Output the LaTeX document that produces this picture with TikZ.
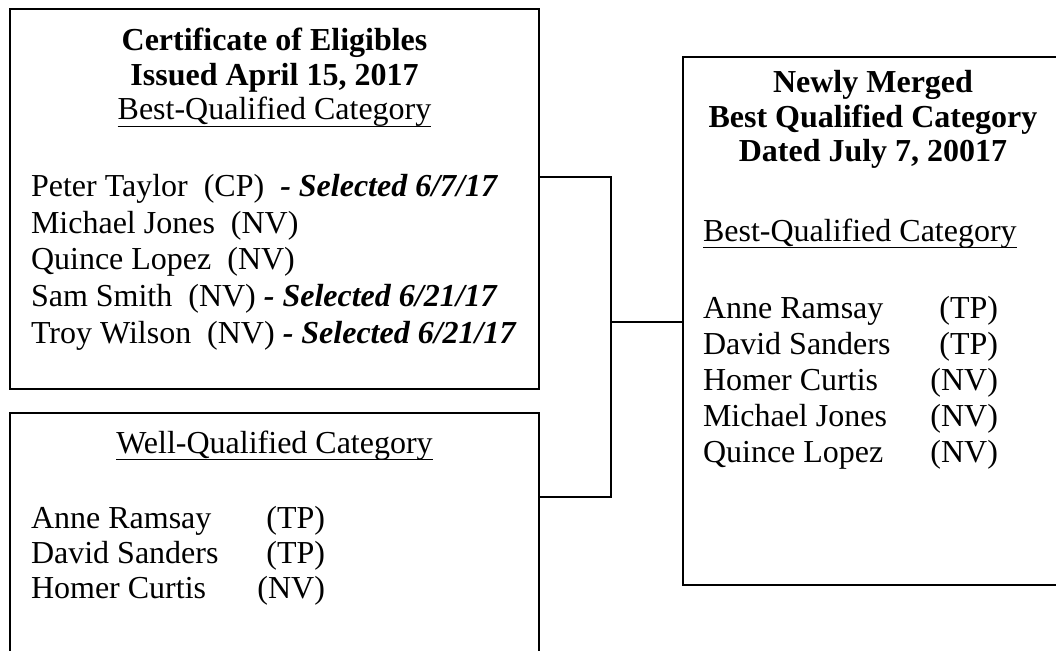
\documentclass[tikz,border=0pt]{standalone}
\usepackage{fontspec}
\setmainfont{Liberation Serif}
\newsavebox{\ulbox}
\newcommand{\myul}[1]{\sbox{\ulbox}{#1}\rlap{\rule[-7.4pt]{\wd\ulbox}{1.6pt}}\usebox{\ulbox}}
\begin{document}
\begin{tikzpicture}[x=1pt,y=-1pt,
  box/.style={draw, line width=2pt, anchor=north west, outer sep=0pt, inner sep=0pt},
  txt/.style={inner sep=0pt, outer sep=0pt, font=\fontsize{32}{36}\selectfont},
  ttl/.style={inner sep=0pt, outer sep=0pt, anchor=base, font=\fontsize{32}{36}\selectfont\bfseries},
  head/.style={txt, anchor=base},
  item/.style={txt, anchor=base west},
  tag/.style={txt, anchor=base east},
  wire/.style={draw, line width=2pt}]
\useasboundingbox (0,0) rectangle (1056,650);
\clip (0,0) rectangle (1056,650);
% boxes
\node[box, minimum width=529, minimum height=379] (b1) at (10,9.5) {};
\node[box, minimum width=529, minimum height=300] (b2) at (10,413) {};
\node[box, minimum width=380, minimum height=528] (b3) at (683,57) {};
% box 1
\node[ttl] (t1) at (274.5,51) {Certificate of Eligibles};
\node[ttl] (t2) at (274.5,86) {Issued April 15, 2017};
\node[head] (t3) at (274.5,120) {\myul{Best-Qualified Category}};
\node[item] (p1) at (31,196) {Peter Taylor~ (CP)~ \textbf{\textit{- Selected 6/7/17}}};
\node[item] (p2) at (31,233) {Michael Jones~ (NV)};
\node[item] (p3) at (31,269) {Quince Lopez~ (NV)};
\node[item] (p4) at (31,306) {Sam Smith~ (NV) \textbf{\textit{- Selected 6/21/17}}};
\node[item] (p5) at (31,343) {Troy Wilson~ (NV) \textbf{\textit{- Selected 6/21/17}}};
% box 2
\node[head] (w0) at (274.5,453) {\myul{Well-Qualified Category}};
\node[item] (w1) at (31,528) {Anne Ramsay};
\node[tag] (w1t) at (325,528) {(TP)};
\node[item] (w2) at (31,563) {David Sanders};
\node[tag] (w2t) at (325,563) {(TP)};
\node[item] (w3) at (31,598) {Homer Curtis};
\node[tag] (w3t) at (325,598) {(NV)};
% box 3
\node[ttl] (n1) at (873,93) {Newly Merged};
\node[ttl] (n2) at (873,128) {Best Qualified Category};
\node[ttl] (n3) at (873,161) {Dated July 7, 20017};
\node[item] (n4) at (703,241) {\myul{Best-Qualified Category}};
\node[item] (m1) at (703,318) {Anne Ramsay};
\node[tag] (m1t) at (998,318) {(TP)};
\node[item] (m2) at (703,354) {David Sanders};
\node[tag] (m2t) at (998,354) {(TP)};
\node[item] (m3) at (703,390) {Homer Curtis};
\node[tag] (m3t) at (998,390) {(NV)};
\node[item] (m4) at (703,426) {Michael Jones};
\node[tag] (m4t) at (998,426) {(NV)};
\node[item] (m5) at (703,462) {Quince Lopez};
\node[tag] (m5t) at (998,462) {(NV)};
% connectors
\coordinate (j1) at (611,177);
\coordinate (j2) at (611,497);
\coordinate (jm) at (611,322);
\draw[wire] (b1.east |- j1) -- (j1) -- (j2) -- (b2.east |- j2);
\draw[wire] (jm) -- (b3.west |- jm);
\end{tikzpicture}
\end{document}
